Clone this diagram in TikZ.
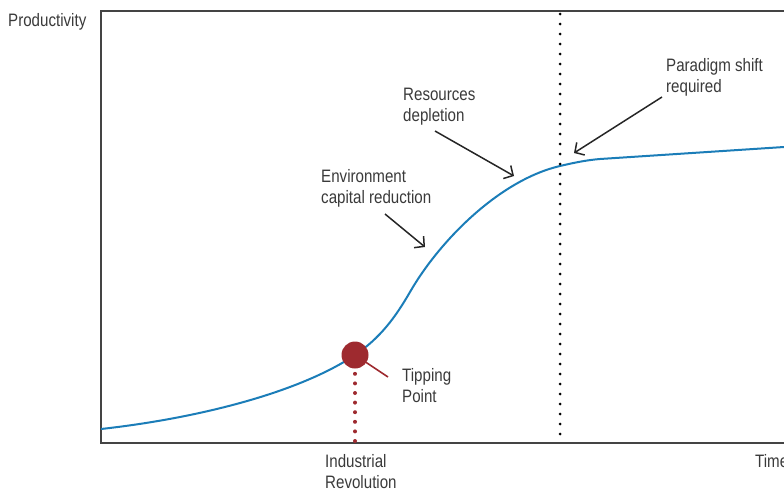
\documentclass[tikz,border=0pt]{standalone}
\usepackage{fontspec}
\setmainfont[FakeStretch=0.84]{Liberation Sans}
\usetikzlibrary{arrows.meta}
\definecolor{curveblue}{HTML}{1B7DB8}
\definecolor{tipred}{HTML}{9E2A2F}
\definecolor{axisgray}{HTML}{444444}
\definecolor{txtgray}{HTML}{3A3A3A}
\tikzset{
  lbl/.style={font=\fontsize{18}{21}\selectfont, text=txtgray, align=left, anchor=north west, inner sep=0pt},
  axisline/.style={draw=axisgray, line width=2.2pt},
  pointer/.style={draw=black!85, line width=1.5pt, -{Straight Barb[length=7pt,width=15pt,line width=1.5pt]}},
}
\begin{document}
\begin{tikzpicture}[x=1pt,y=-1pt]
\useasboundingbox (0,0) rectangle (784,490);
% frame
\draw[axisline] (784,11) -- (101,11) -- (101,443) -- (784,443);
% curve
\draw[curveblue, line width=2pt] (101,429) .. controls (200,418) and (300,392) .. (355,355)
  .. controls (380,338) and (395,318) .. (410,292)
  .. controls (440,240) and (500,180) .. (560,166)
  .. controls (577,162) and (588,160) .. (600,159) -- (784,147);
% vertical dotted line
\coordinate (vtop) at (560,14);
\coordinate (vbot) at (560,443);
\draw[black, line width=3pt, dash pattern=on 0pt off 10pt, line cap=round] (vtop) -- (vbot);
% tipping point
\node[circle, fill=tipred, minimum size=27pt, inner sep=0pt] (tip) at (355,355) {};
\coordinate (tipbot) at (355,441);
\coordinate (tipend) at (388,377);
\draw[tipred, line width=1.6pt] (tip.center) -- (tipend);
\draw[tipred, line width=4pt, dash pattern=on 0pt off 9.6pt, line cap=round] (tipbot) -- ([yshift=6pt]tip.south);
% labels
\node[lbl] (prod) at (8,13) {Productivity};
\node[lbl] (time) at (755,454) {Time};
\node[lbl] (indrev) at (325,454) {Industrial\\Revolution};
\node[lbl] (tiplbl) at (402,368) {Tipping\\Point};
\node[lbl] (env) at (321,169) {Environment\\capital reduction};
\node[lbl] (res) at (403,88) {Resources\\depletion};
\node[lbl] (par) at (666,58) {Paradigm shift\\required};
% pointers
\coordinate (envs) at (385,214);
\coordinate (enve) at (425,247);
\coordinate (ress) at (435,131);
\coordinate (rese) at (514,176);
\coordinate (pars) at (662,97);
\coordinate (pare) at (574,153);
\draw[pointer] (envs) -- (enve);
\draw[pointer] (ress) -- (rese);
\draw[pointer] (pars) -- (pare);
\end{tikzpicture}
\end{document}
